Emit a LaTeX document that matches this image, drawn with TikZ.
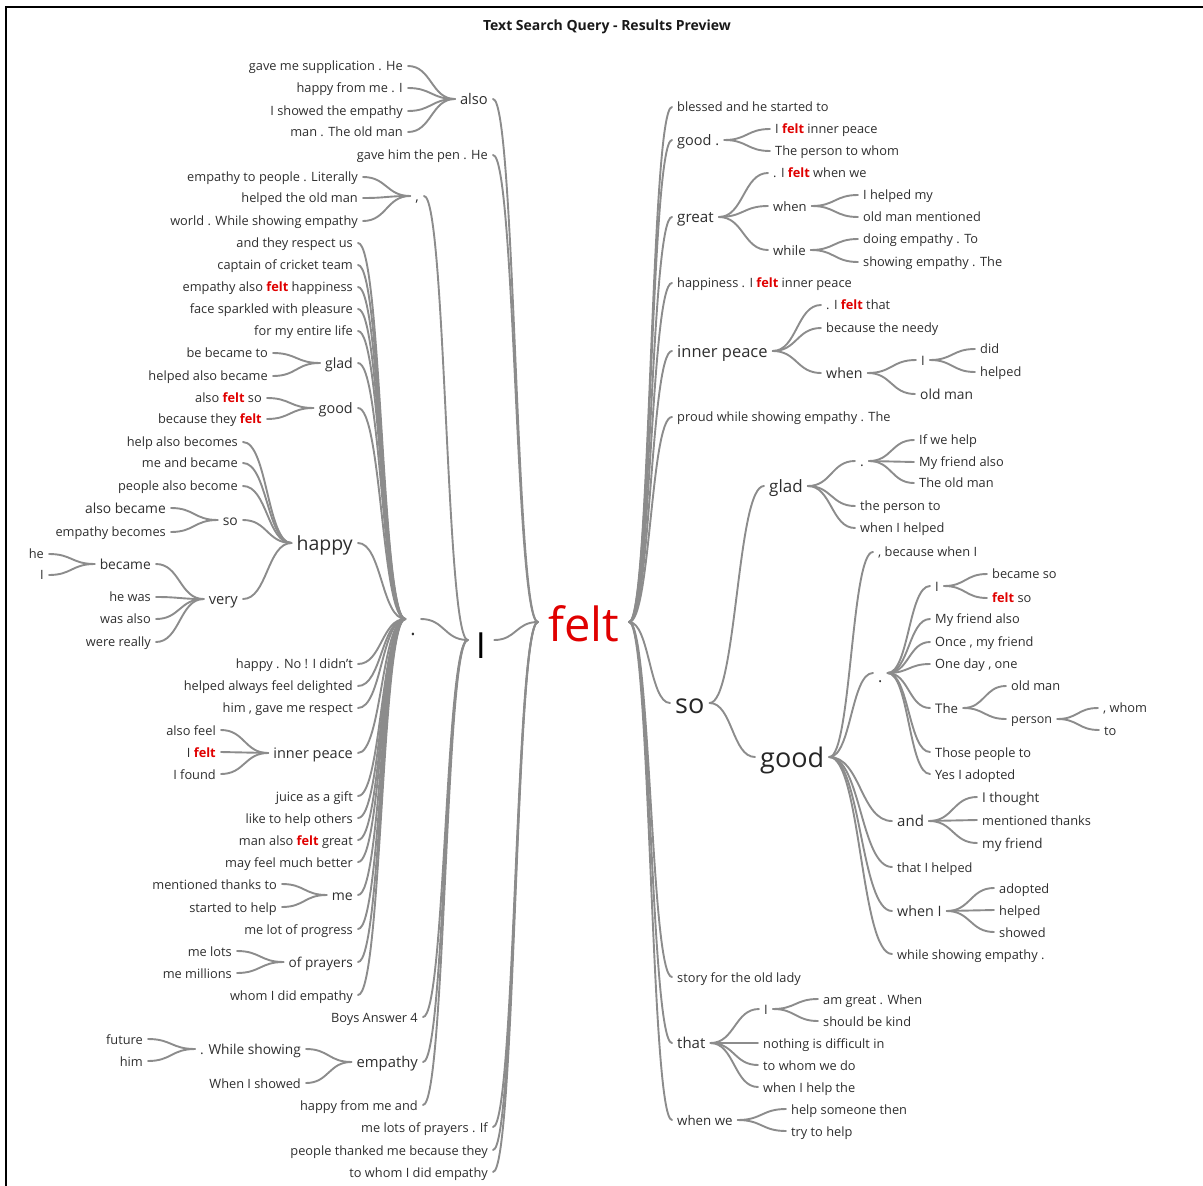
\documentclass[tikz,border=0pt]{standalone}
\usepackage{fontspec}
\setmainfont{Open Sans}
\usetikzlibrary{calc}
\definecolor{linkgray}{HTML}{8C8C8C}
\definecolor{wordgray}{HTML}{2E2E2E}
\definecolor{feltred}{HTML}{E00000}
% the search word, highlighted inside the context phrases
\newcommand\fw{{\bfseries\color{feltred}felt}}
% fixed line box so every word node is centred near its x-height middle
\newcommand\wtstrut{\rule[-0.25em]{0pt}{1.28em}}
\begin{document}
\begin{tikzpicture}[x=1pt,y=-1pt,
  sz/.style={font=\fontsize{#1pt}{#1pt}\selectfont},
  word/.style={inner ysep=0pt, inner xsep=5pt, text=wordgray, execute at begin node=\wtstrut},
  rt/.style={word, anchor=west, xshift=-5pt},
  lt/.style={word, anchor=east, xshift=5pt},
  rleaf/.style={rt, sz=12.8},
  lleaf/.style={lt, sz=12.8},
  link/.style={draw=linkgray, line width=1.9pt, line cap=round,
    to path={let \p1=(\tikztostart), \p2=(\tikztotarget) in
      .. controls ({(\x1+\x2)/2},\y1) and ({(\x1+\x2)/2},\y2) .. (\tikztotarget)}},
]
\useasboundingbox (0,0) rectangle (1203,1186);
\draw[line width=1.2pt] (6,1186) -- (6,7) -- (1203,7);
\node[font=\bfseries\fontsize{14pt}{14pt}\selectfont, text=black!90] (title) at (607,27) {Text Search Query - Results Preview};

% ---------- root ----------
\node[word, sz=47, text=feltred, inner xsep=10pt] (felt) at (583.5,622) {\rule[-0.25em]{0pt}{1.33em}felt};

% ---------- words before "felt" ----------
\node[lt,sz=14.7] (lalso) at (488,99) {also};
\node[lleaf] (lgave) at (488,155) {gave him the pen . He};
\node[word, sz=36, text=black, inner xsep=8pt] (lI) at (481,640) {\rule[-0.25em]{0pt}{1.5em}I};
\node[lleaf] (lmelots) at (488,1127) {me lots of prayers . If};
\node[lleaf] (lpeople) at (488,1150) {people thanked me because they};
\node[lleaf] (ltowhom) at (488,1172) {to whom I did empathy};

\node[lleaf] (lsupp) at (403,66) {gave me supplication . He};
\node[lleaf] (lhappyfrom) at (403,88) {happy from me . I};
\node[lleaf] (lshowed) at (403,111) {I showed the empathy};
\node[lleaf] (lman) at (403,132) {man . The old man};

\node[lt,sz=14] (lcomma) at (419,196) {,};
\node[lt,sz=20] (ldot) at (416,619) {\rule[-0.25em]{0pt}{2.1em}.};
\node[lleaf] (lboys) at (418,1017) {Boys Answer 4};
\node[lt,sz=14.8] (lemp) at (418,1062) {empathy};
\node[lleaf] (lhappyme) at (418,1105) {happy from me and};

\node[lleaf] (lc1) at (358,177) {empathy to people . Literally};
\node[lleaf] (lc2) at (358,198) {helped the old man};
\node[lleaf] (lc3) at (358,221) {world . While showing empathy};

\node[lleaf] (ld1) at (353,243) {and they respect us};
\node[lleaf] (ld2) at (353,265) {captain of cricket team};
\node[lleaf] (ld3) at (353,287) {empathy also \fw{} happiness};
\node[lleaf] (ld4) at (353,309) {face sparkled with pleasure};
\node[lleaf] (ld5) at (353,331) {for my entire life};
\node[lt,sz=14.1] (lglad) at (353,363) {glad};
\node[lt,sz=14.4] (lgood) at (353,408) {good};
\node[lt,sz=19.5] (lhappy) at (353,543) {happy};
\node[lleaf] (ld6) at (353,664) {happy . No ! I didn't};
\node[lleaf] (ld7) at (353,686) {helped always feel delighted};
\node[lleaf] (ld8) at (353,708) {him , gave me respect};
\node[lt,sz=14.5] (linner) at (353,753) {inner peace};
\node[lleaf] (ld9) at (353,796) {juice as a gift};
\node[lleaf] (ld10) at (353,818) {like to help others};
\node[lleaf] (ld11) at (353,840) {man also \fw{} great};
\node[lleaf] (ld12) at (353,862) {may feel much better};
\node[lt,sz=14] (lme) at (353,895) {me};
\node[lleaf] (ld13) at (353,929) {me lot of progress};
\node[lt,sz=13.6] (lprayers) at (353,962) {of prayers};
\node[lleaf] (ld14) at (353,995) {whom I did empathy};

\node[lleaf] (lg1) at (268,353) {be became to};
\node[lleaf] (lg2) at (268,376) {helped also became};
\node[lleaf] (lgo1) at (262,398) {also \fw{} so};
\node[lleaf] (lgo2) at (262,419) {because they \fw};

\node[lleaf] (lh1) at (238,442) {help also becomes};
\node[lleaf] (lh2) at (238,463) {me and became};
\node[lleaf] (lh3) at (238,486) {people also become};
\node[lt,sz=13.9] (lso) at (238,520) {so};
\node[lt,sz=14.7] (lvery) at (238,599) {very};

\node[lt,sz=13.8] (ls1) at (166,508) {also became};
\node[lleaf] (ls2) at (166,532) {empathy becomes};

\node[lt,sz=13.8] (lbecame) at (151,564) {became};
\node[lleaf] (lv1) at (151,597) {he was};
\node[lleaf] (lv2) at (151,619) {was also};
\node[lleaf] (lv3) at (151,642) {were really};
\node[lleaf] (lb1) at (44,554) {he};
\node[lleaf] (lb2) at (44,575) {I};

\node[lleaf] (li1) at (216,730) {also feel};
\node[lleaf] (li2) at (216,752) {I \fw};
\node[lleaf] (li3) at (216,774) {I found};

\node[lleaf] (lm1) at (277,884) {mentioned thanks to};
\node[lleaf] (lm2) at (277,907) {started to help};

\node[lleaf] (lp1) at (232,951) {me lots};
\node[lleaf] (lp2) at (232,973) {me millions};

\node[lt,sz=13.7] (lwhile) at (301,1049) {. While showing};
\node[lleaf] (le2) at (301,1083) {When I showed};
\node[lleaf] (lw1) at (143,1039) {future};
\node[lleaf] (lw2) at (143,1061) {him};

% ---------- words after "felt" ----------
\node[rleaf] (rblessed) at (677,107) {blessed and he started to};
\node[rt,sz=14.5] (rgood) at (677,140) {good .};
\node[rt,sz=15.2] (rgreat) at (677,217) {great};
\node[rleaf] (rhappiness) at (677,283) {happiness . I \fw{} inner peace};
\node[rt,sz=16.5] (rinner) at (677,351) {inner peace};
\node[rleaf] (rproud) at (677,417) {proud while showing empathy . The};
\node[rt,sz=27, text=black!85] (rso) at (675,703) {so};
\node[rleaf] (rstory) at (677,977) {story for the old lady};
\node[rt,sz=15] (rthat) at (677,1043) {that};
\node[rt,sz=13.3] (rwhenwe) at (677,1120) {when we};

\node[rleaf] (rgo1) at (775,129) {I \fw{} inner peace};
\node[rleaf] (rgo2) at (775,151) {The person to whom};

\node[rleaf] (rgr1) at (773,173) {. I \fw{} when we};
\node[rt,sz=13] (rwhen) at (773,206) {when};
\node[rt,sz=13.2] (rwhile) at (773,250) {while};
\node[rleaf] (rwh1) at (863,195) {I helped my};
\node[rleaf] (rwh2) at (863,217) {old man mentioned};
\node[rleaf] (rwl1) at (863,239) {doing empathy . To};
\node[rleaf] (rwl2) at (863,262) {showing empathy . The};

\node[rleaf] (rip1) at (826,305) {. I \fw{} that};
\node[rleaf] (rip2) at (826,328) {because the needy};
\node[rt,sz=14.2] (ripwhen) at (826,373) {when};
\node[rt,sz=13] (ripI) at (921,360) {I};
\node[rt,sz=13.8] (ripold) at (920,394) {old man};
\node[rleaf] (rii1) at (980,349) {did};
\node[rleaf] (rii2) at (980,372) {helped};

\node[rt,sz=17] (rglad) at (769,486) {glad};
\node[rt,sz=27, text=black!85] (rgoodb) at (760,757) {good};

\node[rt,sz=14] (rgdot) at (860,461) {.};
\node[rleaf] (rgl1) at (860,506) {the person to};
\node[rleaf] (rgl2) at (860,528) {when I helped};
\node[rleaf] (rgd1) at (919,440) {If we help};
\node[rleaf] (rgd2) at (919,462) {My friend also};
\node[rleaf] (rgd3) at (919,483) {The old man};

\node[rleaf] (rbec) at (878,552) {, because when I};
\node[rt,sz=16] (rbdot) at (878,673) {\rule[-0.25em]{0pt}{1.63em}.};
\node[rt,sz=15] (rand) at (897,821) {and};
\node[rleaf] (rb3) at (897,867) {that I helped};
\node[rt,sz=14.3] (rwhenI) at (897,911) {when I};
\node[rleaf] (rb5) at (897,954) {while showing empathy .};

\node[rt,sz=13] (rbI) at (935,586) {I};
\node[rleaf] (rbd1) at (935,619) {My friend also};
\node[rleaf] (rbd2) at (935,642) {Once , my friend};
\node[rleaf] (rbd3) at (935,664) {One day , one};
\node[rt,sz=13.2] (rthe) at (935,708) {The};
\node[rleaf] (rbd4) at (935,752) {Those people to};
\node[rleaf] (rbd5) at (935,774) {Yes I adopted};

\node[rleaf] (rbi1) at (992,574) {became so};
\node[rleaf] (rbi2) at (992,598) {\fw{} so};
\node[rleaf] (rt1) at (1011,686) {old man};
\node[rt,sz=12.5] (rperson) at (1011,719) {person};
\node[rleaf] (rp1) at (1103,708) {, whom};
\node[rleaf] (rp2) at (1104,730) {to};

\node[rt,sz=13.5] (ra1) at (982,797) {I thought};
\node[rleaf] (ra2) at (982,820) {mentioned thanks};
\node[rt,sz=13.5] (ra3) at (982,843) {my friend};
\node[rleaf] (rw1) at (999,888) {adopted};
\node[rleaf] (rw2) at (999,910) {helped};
\node[rleaf] (rw3) at (999,932) {showed};

\node[rt,sz=13] (rthI) at (764,1009) {I};
\node[rleaf] (rth1) at (763,1043) {nothing is difficult in};
\node[rleaf] (rth2) at (763,1065) {to whom we do};
\node[rleaf] (rth3) at (763,1087) {when I help the};
\node[rleaf] (rti1) at (823,999) {am great . When};
\node[rleaf] (rti2) at (823,1021) {should be kind};
\node[rleaf] (rww1) at (791,1109) {help someone then};
\node[rleaf] (rww2) at (791,1131) {try to help};

% ---------- connectors, left branch ----------
\foreach \c in {lalso,lgave,lI,lmelots,lpeople,ltowhom} \draw[link] (felt.west) to (\c.east);
\foreach \c in {lsupp,lhappyfrom,lshowed,lman} \draw[link] (lalso.west) to (\c.east);
\foreach \c in {lcomma,ldot,lboys,lemp,lhappyme} \draw[link] (lI.west) to (\c.east);
\foreach \c in {lc1,lc2,lc3} \draw[link] (lcomma.west) to (\c.east);
\foreach \c in {ld1,ld2,ld3,ld4,ld5,lglad,lgood,lhappy,ld6,ld7,ld8,linner,ld9,ld10,ld11,ld12,lme,ld13,lprayers,ld14}
  \draw[link] (ldot.west) to (\c.east);
\foreach \c in {lg1,lg2} \draw[link] (lglad.west) to (\c.east);
\foreach \c in {lgo1,lgo2} \draw[link] (lgood.west) to (\c.east);
\foreach \c in {lh1,lh2,lh3,lso,lvery} \draw[link] (lhappy.west) to (\c.east);
\foreach \c in {ls1,ls2} \draw[link] (lso.west) to (\c.east);
\foreach \c in {lbecame,lv1,lv2,lv3} \draw[link] (lvery.west) to (\c.east);
\foreach \c in {lb1,lb2} \draw[link] (lbecame.west) to (\c.east);
\foreach \c in {li1,li2,li3} \draw[link] (linner.west) to (\c.east);
\foreach \c in {lm1,lm2} \draw[link] (lme.west) to (\c.east);
\foreach \c in {lp1,lp2} \draw[link] (lprayers.west) to (\c.east);
\foreach \c in {lwhile,le2} \draw[link] (lemp.west) to (\c.east);
\foreach \c in {lw1,lw2} \draw[link] (lwhile.west) to (\c.east);

% ---------- connectors, right branch ----------
\foreach \c in {rblessed,rgood,rgreat,rhappiness,rinner,rproud,rso,rstory,rthat,rwhenwe}
  \draw[link] (felt.east) to (\c.west);
\foreach \c in {rgo1,rgo2} \draw[link] (rgood.east) to (\c.west);
\foreach \c in {rgr1,rwhen,rwhile} \draw[link] (rgreat.east) to (\c.west);
\foreach \c in {rwh1,rwh2} \draw[link] (rwhen.east) to (\c.west);
\foreach \c in {rwl1,rwl2} \draw[link] (rwhile.east) to (\c.west);
\foreach \c in {rip1,rip2,ripwhen} \draw[link] (rinner.east) to (\c.west);
\foreach \c in {ripI,ripold} \draw[link] (ripwhen.east) to (\c.west);
\foreach \c in {rii1,rii2} \draw[link] (ripI.east) to (\c.west);
\foreach \c in {rglad,rgoodb} \draw[link] (rso.east) to (\c.west);
\foreach \c in {rgdot,rgl1,rgl2} \draw[link] (rglad.east) to (\c.west);
\foreach \c in {rgd1,rgd2,rgd3} \draw[link] (rgdot.east) to (\c.west);
\foreach \c in {rbec,rbdot,rand,rb3,rwhenI,rb5} \draw[link] (rgoodb.east) to (\c.west);
\foreach \c in {rbI,rbd1,rbd2,rbd3,rthe,rbd4,rbd5} \draw[link] (rbdot.east) to (\c.west);
\foreach \c in {rbi1,rbi2} \draw[link] (rbI.east) to (\c.west);
\foreach \c in {rt1,rperson} \draw[link] (rthe.east) to (\c.west);
\foreach \c in {rp1,rp2} \draw[link] (rperson.east) to (\c.west);
\foreach \c in {ra1,ra2,ra3} \draw[link] (rand.east) to (\c.west);
\foreach \c in {rw1,rw2,rw3} \draw[link] (rwhenI.east) to (\c.west);
\foreach \c in {rthI,rth1,rth2,rth3} \draw[link] (rthat.east) to (\c.west);
\foreach \c in {rti1,rti2} \draw[link] (rthI.east) to (\c.west);
\foreach \c in {rww1,rww2} \draw[link] (rwhenwe.east) to (\c.west);
\end{tikzpicture}
\end{document}
